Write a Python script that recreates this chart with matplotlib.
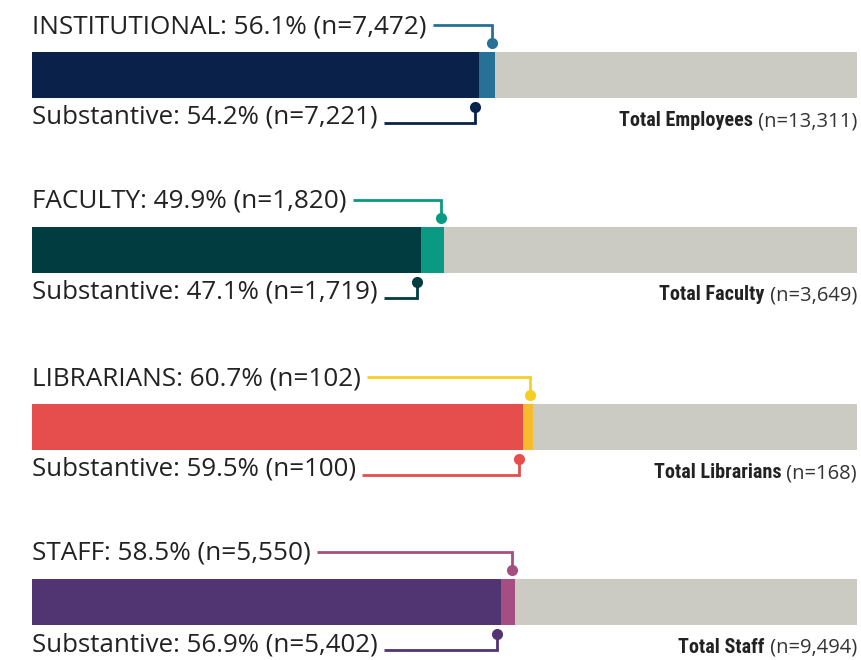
import matplotlib
matplotlib.use("Agg")
import matplotlib.pyplot as plt
from matplotlib import font_manager as fm

# ---------------- data ----------------
categories = ["INSTITUTIONAL", "FACULTY", "LIBRARIANS", "STAFF"]
total_pct = [56.1, 49.9, 60.7, 58.5]
total_n = [7472, 1820, 102, 5550]
subst_pct = [54.2, 47.1, 59.5, 56.9]
subst_n = [7221, 1719, 100, 5402]
group_names = ["Total Employees", "Total Faculty", "Total Librarians", "Total Staff"]
group_n = [13311, 3649, 168, 9494]

# ---------------- styles ----------------
dark_colors = ["#0a2249", "#003c40", "#e64e4e", "#503572"]
accent_colors = ["#277197", "#0a9a83", "#f7bb2f", "#a54e82"]
connector_top = ["#277197", "#0a9a83", "#f5d020", "#a54e82"]
grey = "#cbcac3"
txt = "#222222"

names = {f.name for f in fm.fontManager.ttflist}
main_font = "Open Sans" if "Open Sans" in names else "DejaVu Sans"
bold_font = "Roboto" if "Roboto" in names else "DejaVu Sans"
for cand in ["Liberation Sans Narrow", "Roboto Condensed", "DejaVu Sans Condensed"]:
    if cand in names:
        bold_font = cand
        break

W, H = 862, 660
fig = plt.figure(figsize=(W / 100, H / 100), dpi=100)
ax = fig.add_axes([0, 0, 1, 1])
x0, x1 = 32, 857
scale = (x1 - x0) / 100.0
ax.set_xlim(-x0 / scale, (W - x0) / scale)
ax.set_ylim(H, 0)
ax.axis("off")

bar_centers = [75, 249.5, 427, 602]
bar_h = 46

fig.canvas.draw()
renderer = fig.canvas.get_renderer()
inv = ax.transData.inverted()

def right_edge(t):
    bb = t.get_window_extent(renderer)
    return inv.transform((bb.x1, bb.y0))[0]

def left_edge(t):
    bb = t.get_window_extent(renderer)
    return inv.transform((bb.x0, bb.y0))[0]

px = 1 / scale  # one pixel in x data units

for i, cat in enumerate(categories):
    yc = bar_centers[i]
    top = yc - bar_h / 2
    bot = yc + bar_h / 2
    ax.barh(yc, 100, height=bar_h, left=0, color=grey, linewidth=0)
    ax.barh(yc, total_pct[i], height=bar_h, left=0, color=accent_colors[i], linewidth=0)
    ax.barh(yc, subst_pct[i], height=bar_h, left=0, color=dark_colors[i], linewidth=0)

    # top label
    t1 = ax.text(0, top - 19, f"{cat}: {total_pct[i]:.1f}% (n={total_n[i]:,})",
                 fontsize=18.8, family=main_font, color=txt, ha="left", va="baseline")
    xe = right_edge(t1) + 6 * px
    xd = total_pct[i] - 3 * px
    ly = top - 27
    dy = top - 9
    ax.plot([xe, xd, xd], [ly, ly, dy], color=connector_top[i], lw=2,
            solid_joinstyle="miter", solid_capstyle="butt")
    ax.plot([xd], [dy], "o", color=connector_top[i], ms=8, mec="none")

    # bottom label
    t2 = ax.text(0, bot + 26, f"Substantive: {subst_pct[i]:.1f}% (n={subst_n[i]:,})",
                 fontsize=18.6, family=main_font, color=txt, ha="left", va="baseline")
    xe2 = right_edge(t2) + 6 * px
    xd2 = subst_pct[i] - 4 * px
    ly2 = bot + 25
    dy2 = bot + 9
    ax.plot([xe2, xd2, xd2], [ly2, ly2, dy2], color=dark_colors[i], lw=2,
            solid_joinstyle="miter", solid_capstyle="butt")
    ax.plot([xd2], [dy2], "o", color=dark_colors[i], ms=8, mec="none")

    # total label (right aligned)
    t3 = ax.text(100, bot + 28, f" (n={group_n[i]:,})", fontsize=14.5,
                 family=main_font, color="#333333", ha="right", va="baseline")
    xl = left_edge(t3)
    ax.text(xl, bot + 28, group_names[i], fontsize=14.5, family=bold_font,
            fontweight="bold", color=txt, ha="right", va="baseline")

fig.savefig("out.png", dpi=100)
